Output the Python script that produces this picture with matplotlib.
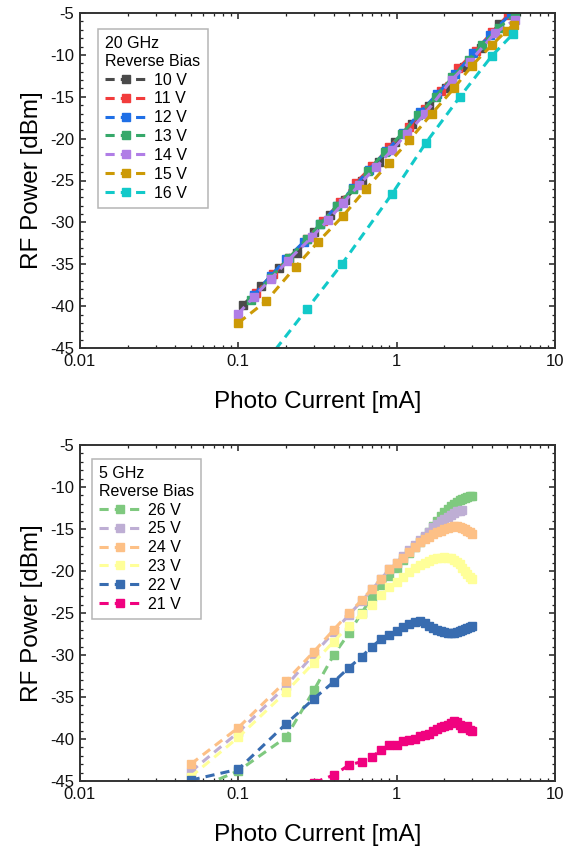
import matplotlib
matplotlib.use("Agg")
import matplotlib.pyplot as plt
from matplotlib.ticker import FixedLocator, FuncFormatter, LogLocator, MultipleLocator, NullFormatter

plt.rcParams['font.family'] = ['Liberation Sans', 'DejaVu Sans']
plt.rcParams['axes.unicode_minus'] = False

# ---------------- data: 20 GHz (top) ----------------
top_labels = ['10 V', '11 V', '12 V', '13 V', '14 V', '15 V', '16 V']
top_colors = ['#4a4a4a', '#f23c3c', '#1f6fe6', '#36a86a', '#b07de6', '#cc9a06', '#12c9c9']
top_x = [
    [0.107, 0.14, 0.18, 0.234, 0.30, 0.38, 0.47, 0.6, 0.77, 0.98, 1.25, 1.6, 2.05, 2.65, 3.4, 4.43],
    [0.13, 0.165, 0.21, 0.27, 0.345, 0.44, 0.55, 0.7, 0.9, 1.19, 1.5, 1.9, 2.45, 3.15, 4.0, 5.08],
    [0.125, 0.16, 0.2, 0.26, 0.33, 0.42, 0.53, 0.67, 0.86, 1.1, 1.41, 1.8, 2.35, 3.05, 3.9, 5.3],
    [0.12, 0.16, 0.21, 0.27, 0.33, 0.42, 0.53, 0.66, 0.84, 1.08, 1.37, 1.76, 2.25, 2.85, 3.46, 4.4, 5.6],
    [0.1, 0.125, 0.16, 0.205, 0.29, 0.37, 0.46, 0.58, 0.74, 0.93, 1.16, 1.5, 2.22, 2.9, 4.18, 5.6],
    [0.1, 0.15, 0.23, 0.32, 0.46, 0.64, 0.895, 1.2, 1.67, 2.3, 2.98, 4.0, 4.95, 5.5],
    [0.15, 0.27, 0.45, 0.935, 1.53, 2.51, 4.0, 5.43],
]
top_y = [
    [-39.9, -37.6, -35.4, -33.6, -31.2, -29.1, -27.3, -25.1, -22.8, -20.4, -18.3, -16.1, -13.9, -11.5, -9.2, -6.3],
    [-38.4, -36.2, -34.2, -32.0, -29.8, -27.6, -25.3, -23.3, -21.0, -18.6, -16.5, -14.3, -11.6, -9.5, -7.3, -5.2],
    [-38.7, -36.4, -34.4, -32.3, -30.2, -28.0, -25.9, -23.7, -21.5, -19.3, -16.8, -14.7, -12.3, -9.8, -7.6, -5.0],
    [-39.3, -36.6, -34.2, -32.0, -30.2, -28.0, -26.0, -23.9, -21.6, -19.4, -17.2, -15.0, -12.7, -10.6, -8.8, -6.8, -5.1],
    [-40.9, -38.9, -36.8, -34.6, -31.8, -29.7, -27.7, -25.5, -23.4, -21.4, -19.4, -17.1, -13.0, -10.8, -7.4, -5.8],
    [-42.0, -39.4, -35.3, -32.3, -29.2, -26.0, -22.9, -20.2, -17.0, -14.0, -11.3, -8.8, -7.1, -6.4],
    [-46.6, -40.4, -35.0, -26.6, -20.5, -15.0, -10.1, -7.5],
]

# ---------------- data: 5 GHz (bottom) ----------------
bot_labels = ['26 V', '25 V', '24 V', '23 V', '22 V', '21 V']
bot_colors = ['#7fc97f', '#beaed4', '#fdc086', '#ffff99', '#386cb0', '#f0027f']
cur_full = [0.05, 0.1, 0.2, 0.3, 0.4, 0.5, 0.6, 0.7, 0.8, 0.9, 1.0, 1.1, 1.2, 1.3, 1.4, 1.5,
            1.6, 1.7, 1.8, 1.9, 2.0, 2.1, 2.2, 2.3, 2.4, 2.5, 2.6, 2.7, 2.8, 2.9, 3.0]
cur_25 = [0.05, 0.1, 0.2, 0.3, 0.4, 0.5, 0.6, 0.7, 0.8, 0.9, 1.0, 1.1, 1.2, 1.3, 1.4, 1.5,
          1.6, 1.7, 1.8, 1.9, 2.0, 2.1, 2.2, 2.3, 2.4, 2.5, 2.6]
cur_21 = [0.3, 0.4, 0.5, 0.6, 0.7, 0.8, 0.9, 1.0, 1.1, 1.2, 1.3, 1.4, 1.5,
          1.6, 1.7, 1.8, 1.9, 2.0, 2.1, 2.2, 2.3, 2.4, 2.5, 2.6, 2.7, 2.8, 2.9, 3.0]
p26 = [-46.2, -43.8, -39.8, -34.2, -30.0, -27.4, -25.0, -23.1, -21.7, -20.6, -19.6, -18.7, -17.9, -17.2,
       -16.5, -15.9, -15.3, -14.7, -14.1, -13.5, -13.0, -12.6, -12.3, -12.0, -11.8, -11.6, -11.4, -11.3,
       -11.2, -11.1, -11.1]
p25 = [-43.9, -39.2, -33.7, -29.9, -27.3, -25.2, -23.6, -22.2, -20.9, -19.8, -19.0, -18.2, -17.5, -16.9,
       -16.3, -15.8, -15.3, -14.8, -14.4, -14.1, -13.8, -13.6, -13.3, -13.1, -12.9, -12.8, -12.7]
p24 = [-43.0, -38.65, -33.1, -29.6, -27.0, -25.0, -23.5, -22.1, -20.9, -19.8, -19.1, -18.4, -17.7, -17.1,
       -16.6, -16.2, -15.9, -15.6, -15.4, -15.2, -15.0, -14.9, -14.8, -14.7, -14.7, -14.8, -14.9, -15.0,
       -15.2, -15.4, -15.6]
p23 = [-44.5, -39.8, -34.4, -30.9, -28.4, -26.5, -25.1, -24.0, -22.8, -21.9, -21.3, -20.7, -20.1, -19.7,
       -19.3, -19.0, -18.8, -18.6, -18.5, -18.4, -18.3, -18.4, -18.5, -18.7, -18.9, -19.2, -19.6, -20.0,
       -20.4, -20.7, -20.9]
p22 = [-44.9, -43.6, -38.2, -35.2, -33.2, -31.5, -30.2, -29.0, -28.1, -27.6, -27.2, -26.7, -26.3, -26.1,
       -26.0, -26.2, -26.5, -26.8, -27.0, -27.2, -27.3, -27.4, -27.4, -27.4, -27.3, -27.2, -27.0, -26.9,
       -26.8, -26.7, -26.6]
p21 = [-45.2, -44.3, -43.1, -42.7, -42.1, -41.3, -40.7, -40.7, -40.2, -40.1, -40.0, -39.6, -39.5, -39.4,
       -39.0, -38.8, -38.6, -38.5, -38.3, -38.1, -37.9, -38.0, -38.3, -38.7, -38.6, -38.5, -38.9, -39.1]
bot_x = [cur_full, cur_25, cur_full, cur_full, cur_full, cur_21]
bot_y = [p26, p25, p24, p23, p22, p21]

y_ticks = [-5, -10, -15, -20, -25, -30, -35, -40, -45]
x_ticks = [0.01, 0.1, 1, 10]

W, H = 565, 850
fig = plt.figure(figsize=(W / 100, H / 100), dpi=100)
ax1 = fig.add_axes([80 / W, 1 - 348 / H, 475 / W, 335 / H])
ax2 = fig.add_axes([80 / W, 1 - 781 / H, 475 / W, 336 / H])

LS = (0, (3.0, 2.0))


def style(ax):
    ax.set_xscale('log')
    ax.set_xlim(0.01, 10)
    ax.set_ylim(-45, -5)
    ax.xaxis.set_major_locator(FixedLocator(x_ticks))
    ax.xaxis.set_major_formatter(FuncFormatter(lambda v, p: '%g' % v))
    ax.xaxis.set_minor_locator(LogLocator(base=10, subs=range(2, 10)))
    ax.xaxis.set_minor_formatter(NullFormatter())
    ax.yaxis.set_major_locator(FixedLocator(y_ticks))
    ax.yaxis.set_major_formatter(FuncFormatter(lambda v, p: '%d' % v))
    ax.yaxis.set_minor_locator(MultipleLocator(1))
    ax.tick_params(which='both', direction='in', top=True, right=True, colors='#222222',
                   labelcolor='#111111', labelsize=12)
    ax.tick_params(which='major', length=4.5, width=1.1)
    ax.tick_params(axis='x', which='major', pad=4.5)
    ax.tick_params(axis='y', which='major', pad=4)
    ax.tick_params(which='minor', length=2.2, width=0.9)
    for s in ax.spines.values():
        s.set_color('#333333')
        s.set_linewidth(1.4)
    ax.set_xlabel('Photo Current [mA]', fontsize=17.5, labelpad=16)
    ax.set_ylabel('RF Power [dBm]', fontsize=17.5, labelpad=5)


for xs, ys, c, lab in zip(top_x, top_y, top_colors, top_labels):
    ax1.plot(xs, ys, linestyle=LS, color=c, lw=2.2, marker='s', ms=5.2, mec=c, mfc=c, label=lab)
for xs, ys, c, lab in zip(bot_x, bot_y, bot_colors, bot_labels):
    ax2.plot(xs, ys, linestyle=LS, color=c, lw=2.2, marker='s', ms=5.2, mec=c, mfc=c, label=lab)

style(ax1)
style(ax2)

leg_kw = dict(loc='upper left', borderaxespad=0, fontsize=11.5, title_fontsize=11.5,
              alignment='left', fancybox=False, edgecolor='#b5b5b5', framealpha=1,
              labelspacing=0.24, handlelength=2.6, handletextpad=0.45, borderpad=0.45,
              numpoints=1)
l1 = ax1.legend(title='20 GHz\nReverse Bias', bbox_to_anchor=(0.038, 0.952), **leg_kw)
l2 = ax2.legend(title='5 GHz\nReverse Bias', bbox_to_anchor=(0.025, 0.958), **leg_kw)
for l in (l1, l2):
    l.get_frame().set_linewidth(1.1)

fig.savefig('out.png', dpi=100)
